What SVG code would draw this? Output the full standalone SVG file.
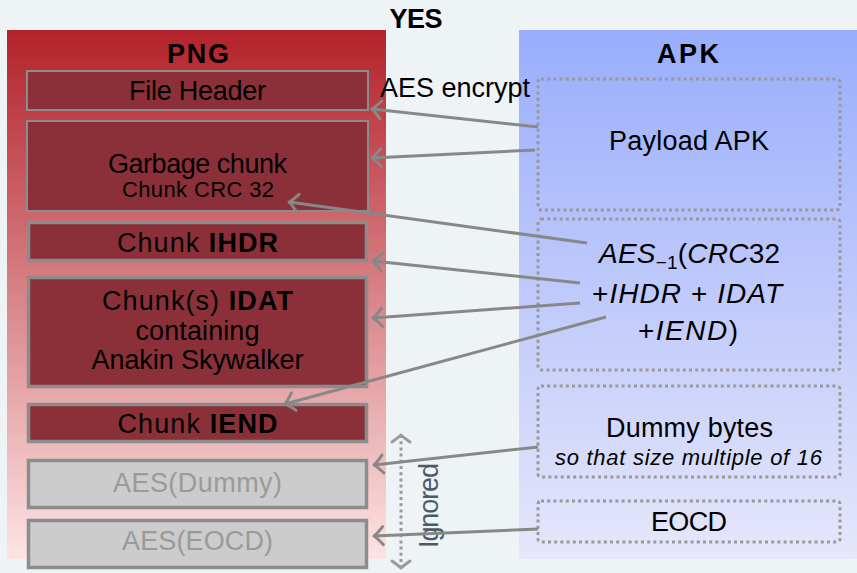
<svg xmlns="http://www.w3.org/2000/svg" width="857" height="573" viewBox="0 0 857 573">
<defs>
<linearGradient id="gRed" x1="0" y1="0" x2="0" y2="1">
<stop offset="0" stop-color="#b3222a"/>
<stop offset="1" stop-color="#fde4e4"/>
</linearGradient>
<linearGradient id="gBlue" x1="0" y1="0" x2="0" y2="1">
<stop offset="0" stop-color="#99adfc"/>
<stop offset="1" stop-color="#e6e7fa"/>
</linearGradient>
<marker id="ah" viewBox="-12 -12 24 24" markerWidth="24" markerHeight="24" markerUnits="userSpaceOnUse" orient="auto-start-reverse" overflow="visible">
<path d="M -9 -9 Q -3 -2 0 0 Q -3 2 -9 9" fill="none" stroke="#888888" stroke-width="3" stroke-linecap="round" stroke-linejoin="round"/>
</marker>
<marker id="ahg" viewBox="-12 -12 24 24" markerWidth="24" markerHeight="24" markerUnits="userSpaceOnUse" orient="auto-start-reverse" overflow="visible">
<path d="M -7 -9 Q -2 -2 0 0 Q -2 2 -7 9" fill="none" stroke="#9a9a9a" stroke-width="3" stroke-linecap="round" stroke-linejoin="round"/>
</marker>
</defs>
<style>
text{font-family:"Liberation Sans",Arial,sans-serif;fill:#000;text-anchor:middle}
.t{font-size:27px}
.m{font-size:28px}
.s{font-size:22px}
.h{font-size:27px;font-weight:bold}
.b{font-weight:bold}
.i{font-style:italic}
.red{fill:#8b3039;stroke:#8c8c8c}
.thin{stroke-width:2}
.thick{stroke-width:3.5}
.grey{fill:#cccccc;stroke:#8c8c8c;stroke-width:3.5}
.gt{fill:#9a9a9a}
.dot{fill:none;stroke:#999999;stroke-width:3;stroke-dasharray:3 3.2}
.conn{fill:none;stroke:#888888;stroke-width:3;marker-end:url(#ah)}
</style>
<rect x="0" y="0" width="857" height="573" fill="#eef3f5"/>
<text class="h" x="416" y="28" textLength="53">YES</text>
<g id="png-panel">
<rect x="7" y="30" width="379" height="529" fill="url(#gRed)"/>
<text class="h" x="198" y="63" textLength="62">PNG</text>
</g>
<g id="apk-panel">
<rect x="519" y="30" width="338" height="529" fill="url(#gBlue)"/>
<text class="h" x="688" y="63" textLength="62">APK</text>
</g>
<g id="file-header">
<rect class="red thin" x="27" y="71" width="341" height="39"/>
<text class="t" x="197.5" y="100" textLength="137">File Header</text>
</g>
<g id="garbage-chunk">
<rect class="red thin" x="27" y="121" width="341" height="90"/>
<text class="t" x="197.5" y="173" textLength="179">Garbage chunk</text>
<text class="s" x="198" y="197" textLength="152">Chunk CRC 32</text>
</g>
<g id="chunk-ihdr">
<rect class="red thick" x="28.5" y="222.5" width="338" height="38"/>
<text class="t" x="197.5" y="252" textLength="161">Chunk <tspan class="b">IHDR</tspan></text>
</g>
<g id="chunk-idat">
<rect class="red thick" x="28.5" y="277.5" width="338" height="109"/>
<text class="t" x="197.5" y="310" textLength="191">Chunk(s) <tspan class="b">IDAT</tspan></text>
<text class="t" x="197.5" y="340" textLength="124">containing</text>
<text class="t" x="197.5" y="369" textLength="212">Anakin Skywalker</text>
</g>
<g id="chunk-iend">
<rect class="red thick" x="28.5" y="404.5" width="338" height="37"/>
<text class="t" x="197.5" y="433" textLength="160">Chunk <tspan class="b">IEND</tspan></text>
</g>
<g id="aes-dummy">
<rect class="grey" x="28.5" y="460.5" width="338" height="47"/>
<text class="t gt" x="197.5" y="492" textLength="169">AES(Dummy)</text>
</g>
<g id="aes-eocd">
<rect class="grey" x="28.5" y="520.5" width="338" height="47"/>
<text class="t gt" x="197.5" y="550" textLength="151">AES(EOCD)</text>
</g>
<g id="payload-apk">
<rect class="dot" x="538" y="79" width="302" height="131" rx="3"/>
<text class="t" x="689" y="150" textLength="160">Payload APK</text>
</g>
<g id="aes-inv">
<rect class="dot" x="538" y="219" width="302" height="151" rx="3"/>
<text class="m" x="689.5" y="263" textLength="181"><tspan class="i">AES</tspan><tspan font-size="19" dy="6">−1</tspan><tspan dy="-6">(</tspan><tspan class="i">CRC</tspan>32</text>
<text class="m" x="687" y="303" textLength="190">+<tspan class="i">IHDR</tspan> + <tspan class="i">IDAT</tspan></text>
<text class="m" x="688" y="340" textLength="100">+<tspan class="i">IEND</tspan>)</text>
</g>
<g id="dummy-bytes">
<rect class="dot" x="538" y="386" width="302" height="91" rx="3"/>
<text class="t" x="689.5" y="437" textLength="167">Dummy bytes</text>
<text class="s i" x="688.5" y="465" textLength="267">so that size multiple of 16</text>
</g>
<g id="eocd">
<rect class="dot" x="538" y="501" width="302" height="41" rx="3"/>
<text class="t" x="689" y="531" textLength="76">EOCD</text>
</g>
<g id="ignored">
<line x1="401" y1="435" x2="401" y2="568" stroke="#9a9a9a" stroke-width="3" stroke-dasharray="3 3.2" marker-start="url(#ahg)" marker-end="url(#ahg)"/>
<text class="t" transform="translate(438 505.5) rotate(-90)" style="fill:#4b5a68" textLength="85">Ignored</text>
</g>
<g id="connectors">
<line class="conn" x1="538" y1="127" x2="372" y2="109"/>
<line class="conn" x1="535" y1="150" x2="372" y2="158"/>
<line class="conn" x1="587" y1="243" x2="289" y2="202"/>
<line class="conn" x1="580" y1="283" x2="373" y2="261"/>
<line class="conn" x1="580" y1="303" x2="373" y2="318"/>
<line class="conn" x1="606" y1="317" x2="285" y2="404"/>
<line class="conn" x1="538" y1="447" x2="374" y2="465"/>
<line class="conn" x1="538" y1="529" x2="374" y2="536"/>
<text class="t" x="455" y="97" textLength="150">AES encrypt</text>
</g>
</svg>
